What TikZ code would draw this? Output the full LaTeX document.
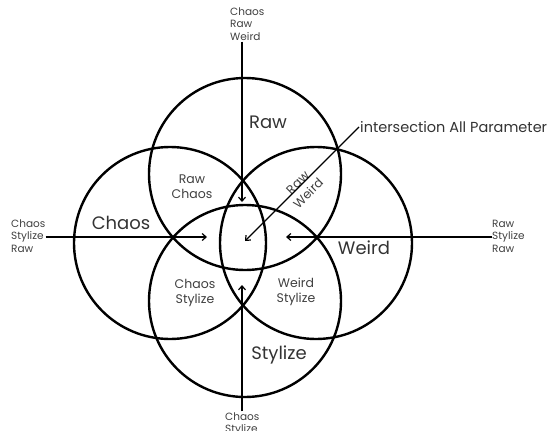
\documentclass[tikz,border=0pt]{standalone}
\usepackage{fontspec}
\setmainfont{Poppins}
\usetikzlibrary{arrows.meta}
\begin{document}
\begin{tikzpicture}[x=1pt,y=-1pt,
  ring/.style={draw=black,line width=2.4pt,circle,minimum size=192pt,inner sep=0pt},
  big/.style={font=\fontsize{18}{18}\selectfont,text=black!80,inner sep=0pt},
  small/.style={font=\fontsize{12.5}{15}\selectfont,text=black!75,align=center,inner sep=0pt},
  side/.style={font=\fontsize{10.5}{12.5}\selectfont,text=black!75,align=left,inner sep=0pt,anchor=west},
  pointer/.style={line width=1.2pt,-{Straight Barb[length=4pt,width=7pt]}}]
\useasboundingbox (0,0) rectangle (557,431);
\node[ring] (raw) at (245,174) {};
\node[ring] (sty) at (245,301) {};
\node[ring] (cha) at (170,243) {};
\node[ring] (wei) at (316,243) {};
\node[big] (lraw) at (268,122) {Raw};
\node[big] (lcha) at (121,223) {Chaos};
\node[big] (lwei) at (364,248) {Weird};
\node[big] (lsty) at (279,355) {Stylize};
\node[small] (rc) at (192,187) {Raw\\Chaos};
\node[small] (cs) at (195,293) {Chaos\\Stylize};
\node[small] (ws) at (296,292) {Weird\\Stylize};
\node[small,rotate=45] (rw) at (303,188) {Raw\\Weird};
\node[font=\fontsize{14.5}{14.5}\selectfont,text=black!80,anchor=west,inner sep=0pt] (all) at (360,127) {intersection All Parameter};
\node[side] (top) at (230,24) {Chaos\\Raw\\Weird};
\node[side] (left) at (11,236) {Chaos\\Stylize\\Raw};
\node[side] (right) at (492,236) {Raw\\Stylize\\Raw};
\node[side] (bot) at (225,424) {Chaos\\Stylize};
\coordinate (tT) at (242,202);
\coordinate (tL) at (207,237);
\coordinate (tR) at (286,237);
\coordinate (tB) at (242,285);
\coordinate (tD) at (245,241);
\draw[pointer] (tT |- top.south) ++(0,1) -- (tT);
\draw[pointer] (left.east |- tL) -- (tL);
\draw[pointer] (right.west |- tR) -- (tR);
\draw[pointer] (tB |- bot.north) ++(0,-1) -- (tB);
\draw[pointer] (all.west) ++(-1,0) -- (tD);
\end{tikzpicture}
\end{document}
